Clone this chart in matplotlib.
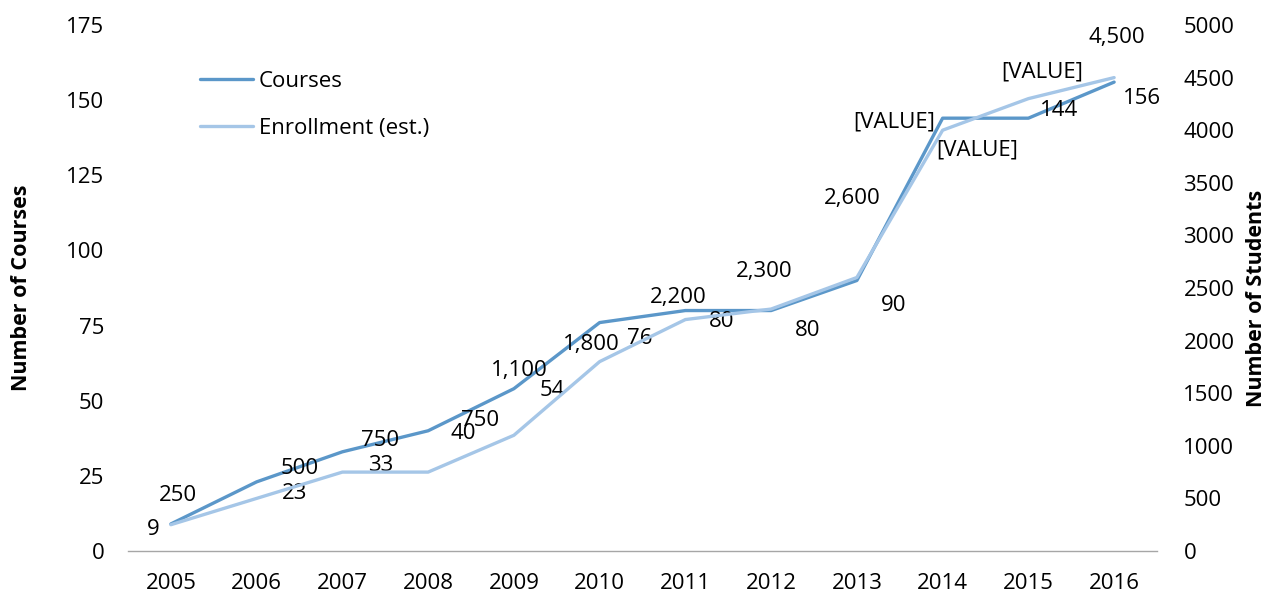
import matplotlib
matplotlib.use("Agg")
import matplotlib.pyplot as plt

years = ["2005", "2006", "2007", "2008", "2009", "2010",
         "2011", "2012", "2013", "2014", "2015", "2016"]
courses = [9, 23, 33, 40, 54, 76, 80, 80, 90, 144, 144, 156]
enrollment = [250, 500, 750, 750, 1100, 1800, 2200, 2300, 2600, 4000, 4300, 4500]

course_labels = ["9", "23", "33", "40", "54", "76", "80", "80", "90", "[VALUE]", "144", "156"]
enroll_labels = ["250", "500", "750", "750", "1,100", "1,800", "2,200", "2,300",
                 "2,600", "[VALUE]", "[VALUE]", "4,500"]

# label offsets from the point, in pixels (x right, y up)
course_off = [(-18, -6), (38, -12), (38, -14), (35, -3), (38, -2), (40, -16),
              (36, -11), (36, -20), (37, -25), (-48, -4), (31, 8), (28, -16)]
enroll_off = [(7, 29), (43, 30), (38, 32), (52, 52), (5, 65), (-8, 17),
              (-7, 22), (-7, 38), (-5, 79), (35, -20), (14, 27), (3, 40)]

DARK = "#5b97c9"
LIGHT = "#a5c6e7"
FONT = "Open Sans"
FS = 16

plt.rcParams["font.family"] = [FONT, "DejaVu Sans"]

fig = plt.figure(figsize=(12.68, 5.97), dpi=100)
ax = fig.add_axes([128 / 1268, 46 / 597, (1157 - 128) / 1268, (551 - 25) / 597])
ax2 = ax.twinx()

x = list(range(len(years)))
ax.plot(x, courses, color=DARK, linewidth=2.4, solid_capstyle="round", label="Courses")
ax2.plot(x, enrollment, color=LIGHT, linewidth=2.4, solid_capstyle="round",
         label="Enrollment (est.)")

ax.set_xlim(-0.5, len(years) - 0.5)
ax.set_ylim(0, 175)
ax.set_yticks(range(0, 176, 25))
ax2.set_ylim(0, 5000)
ax2.set_yticks(range(0, 5001, 500))
ax.set_xticks(x)
ax.set_xticklabels(years)

for a in (ax, ax2):
    for s in ("top", "left", "right", "bottom"):
        a.spines[s].set_visible(False)
    a.tick_params(length=0, labelsize=FS)
ax.spines["bottom"].set_visible(True)
ax.spines["bottom"].set_color("#a6a6a6")
ax.spines["bottom"].set_linewidth(1.0)
ax.tick_params(axis="x", pad=16)
ax.tick_params(axis="y", pad=17)
ax2.tick_params(axis="y", pad=19)

fig.text(22 / 1268, 1 - 288 / 597, "Number of Courses", rotation=90, fontsize=15.5,
         fontweight="bold", ha="center", va="center")
fig.text(1257 / 1268, 1 - 298 / 597, "Number of Students", rotation=90, fontsize=15.5,
         fontweight="bold", ha="center", va="center")

px = 72 / 100
for i in x:
    dx, dy = course_off[i]
    ax.annotate(course_labels[i], (i, courses[i]), xytext=(dx * px, dy * px),
                textcoords="offset points", ha="center", va="center", fontsize=FS)
    dx, dy = enroll_off[i]
    ax2.annotate(enroll_labels[i], (i, enrollment[i]), xytext=(dx * px, dy * px),
                 textcoords="offset points", ha="center", va="center", fontsize=FS)

h1, l1 = ax.get_legend_handles_labels()
h2, l2 = ax2.get_legend_handles_labels()
ax2.legend(h1 + h2, l1 + l2, loc="upper left", bbox_to_anchor=(200 / 1268, 1 - 71 / 597),
           bbox_transform=fig.transFigure, frameon=False, fontsize=FS,
           handlelength=2.4, handletextpad=0.25, labelspacing=1.15, borderpad=0,
           borderaxespad=0)

fig.savefig("out.png", dpi=100)
